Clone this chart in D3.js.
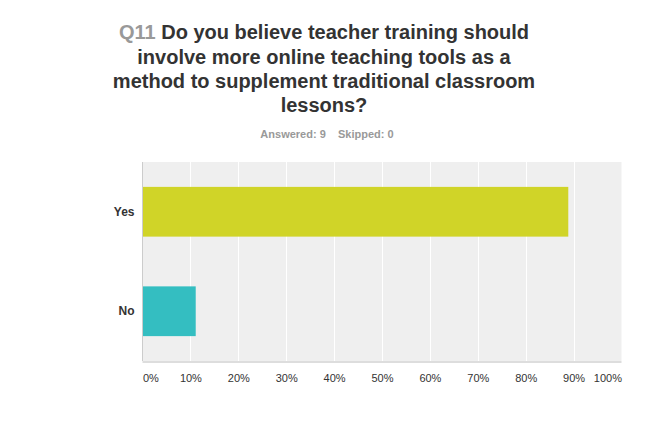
<!DOCTYPE html>
<html>
<head>
<meta charset="utf-8">
<script src="https://cdn.jsdelivr.net/npm/d3@7"></script>
<style>
  html, body { margin: 0; padding: 0; background: #fff; }
  svg { display: block; }
  text { font-family: "Liberation Sans", Arial, sans-serif; }
</style>
</head>
<body>
<svg id="chart" width="650" height="435"></svg>
<script>
const questionNumber = "Q11";
const titleLines = [
  "Do you believe teacher training should",
  "involve more online teaching tools as a",
  "method to supplement traditional classroom",
  "lessons?"
];
const subtitle = ["Answered: 9", "Skipped: 0"];
const categories = ["Yes", "No"];
const values = [88.89, 11.11];
const barColors = ["#d0d428", "#34bec1"];
const tickValues = [0, 10, 20, 30, 40, 50, 60, 70, 80, 90, 100];

const svg = d3.select("#chart");
const plotLeft = 142.5, plotRight = 621.5, plotTop = 162, plotBottom = 361;

const x = d3.scaleLinear().domain([0, 100]).range([plotLeft, plotRight]);
const y = d3.scaleBand().domain(categories).range([plotTop, plotBottom]).paddingInner(0.5).paddingOuter(0.25);

// Title
const title = svg.append("text")
  .attr("text-anchor", "middle")
  .attr("font-size", 20)
  .attr("font-weight", "bold")
  .attr("fill", "#333");
titleLines.forEach((line, i) => {
  const t = title.append("tspan").attr("x", 324).attr("y", 39.3 + i * 24.2);
  if (i === 0) {
    t.append("tspan").attr("fill", "#999").text(questionNumber + " ");
    t.append("tspan").text(line);
  } else {
    t.text(line);
  }
});

svg.append("text")
  .attr("x", 327).attr("y", 138)
  .attr("text-anchor", "middle")
  .attr("font-size", 11)
  .attr("font-weight", "bold")
  .attr("fill", "#999")
  .attr("xml:space", "preserve")
  .text(subtitle.join("    "));

// Plot background
svg.append("rect")
  .attr("x", plotLeft).attr("y", plotTop)
  .attr("width", plotRight - plotLeft).attr("height", plotBottom - plotTop)
  .attr("fill", "#efefef");

// Gridlines
svg.append("g").selectAll("line")
  .data(tickValues.filter(d => d > 0 && d < 100))
  .join("line")
  .attr("x1", d => Math.round(x(d)) + 0.5).attr("x2", d => Math.round(x(d)) + 0.5)
  .attr("y1", plotTop).attr("y2", plotBottom)
  .attr("stroke", "#fff").attr("stroke-width", 1);

// Bars
svg.append("g").selectAll("rect")
  .data(categories)
  .join("rect")
  .attr("x", plotLeft)
  .attr("y", d => y(d))
  .attr("width", (d, i) => x(values[i]) - x(0))
  .attr("height", y.bandwidth())
  .attr("fill", (d, i) => barColors[i]);

// Axis lines
svg.append("line")
  .attr("x1", plotLeft).attr("x2", plotRight)
  .attr("y1", plotBottom + 1).attr("y2", plotBottom + 1)
  .attr("stroke", "#dddddd").attr("stroke-width", 2);
svg.append("line")
  .attr("x1", plotLeft).attr("x2", plotLeft)
  .attr("y1", plotTop).attr("y2", plotBottom)
  .attr("stroke", "#cccccc").attr("stroke-width", 1);

// Y axis labels
const yAxis = d3.axisLeft(y).tickSize(0).tickPadding(8);
const gy = svg.append("g").attr("transform", `translate(${plotLeft},0)`).call(yAxis);
gy.select(".domain").remove();
gy.selectAll("text")
  .attr("font-family", "'Liberation Sans', Arial, sans-serif")
  .attr("font-size", 12)
  .attr("font-weight", "bold")
  .attr("fill", "#333");

// X axis labels
const xAxis = d3.axisBottom(x).tickValues(tickValues).tickSize(0).tickPadding(0)
  .tickFormat(d => d + "%");
const gx = svg.append("g").attr("transform", `translate(0,${plotBottom + 13.5})`).call(xAxis);
gx.select(".domain").remove();
gx.selectAll("text")
  .attr("font-family", "'Liberation Sans', Arial, sans-serif")
  .attr("font-size", 11)
  .attr("fill", "#333")
  .attr("text-anchor", d => d === 0 ? "start" : d === 100 ? "end" : "middle");
</script>
</body>
</html>
